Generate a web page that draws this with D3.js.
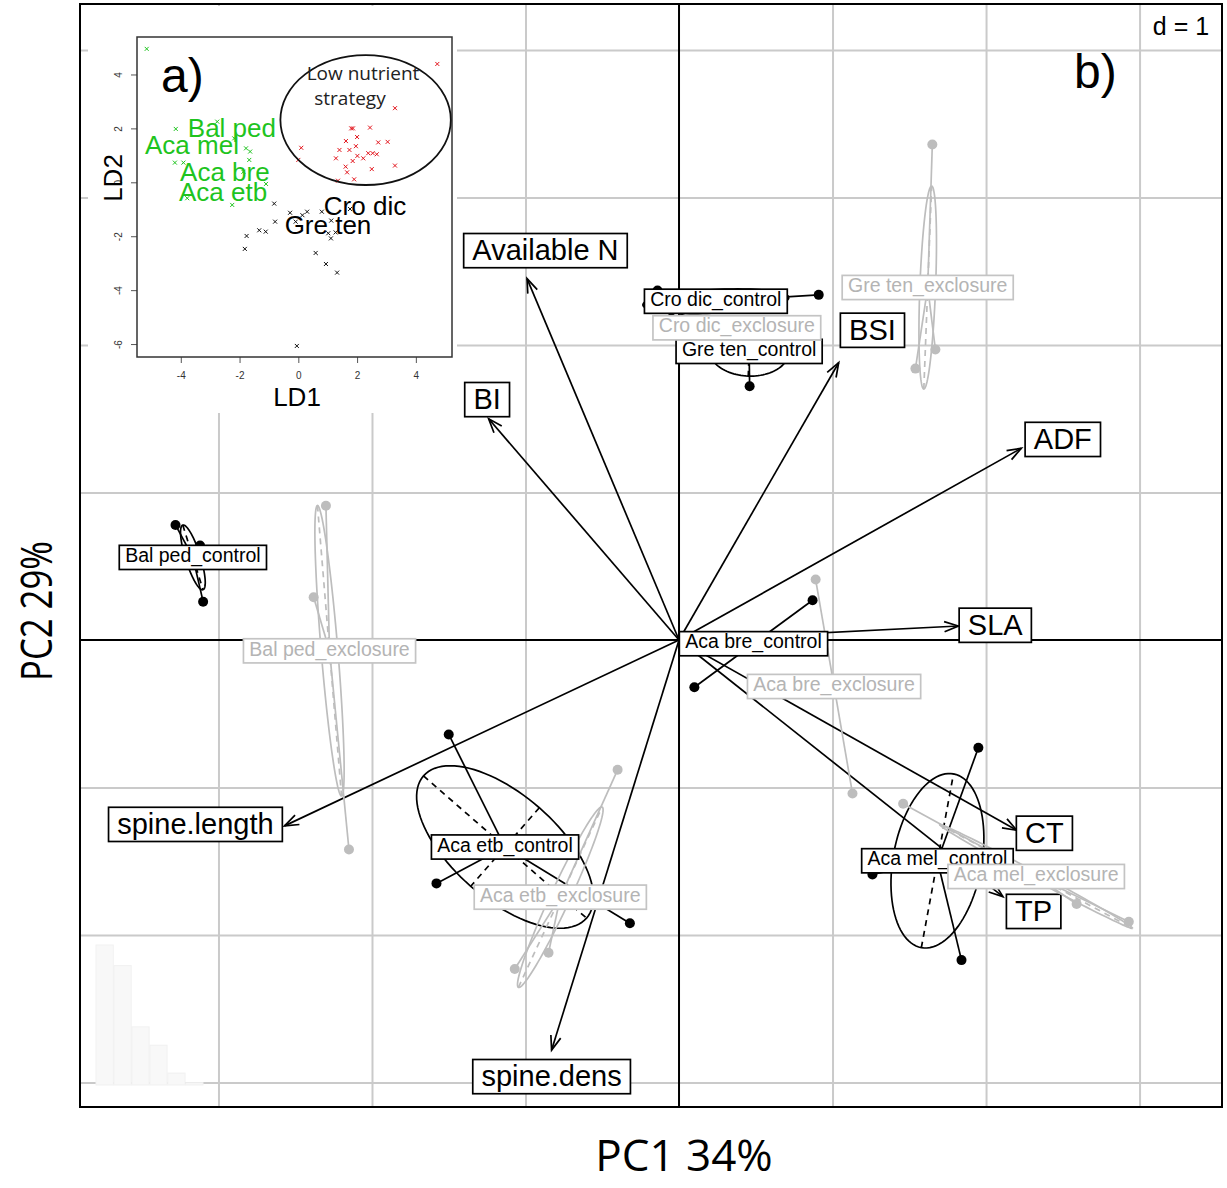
<!DOCTYPE html>
<html>
<head>
<meta charset="utf-8">
<script src="https://cdn.jsdelivr.net/npm/d3@7/dist/d3.min.js"></script>
<style>
  html, body { margin: 0; padding: 0; background: #fff; }
  svg { display: block; }
  text { font-family: "Liberation Sans", Arial, sans-serif; }
</style>
</head>
<body>
<svg id="chart" width="1227" height="1188"></svg>
<script>
// ---------- PCA of traits: variable loadings (arrows) ----------
const traitNames   = ["Available N", "BI", "BSI", "ADF", "SLA", "CT", "TP", "spine.dens", "spine.length"];
const traitPC1     = [-0.99, -1.24, 1.04, 2.23, 1.82, 2.20, 2.11, -0.83, -2.57];
const traitPC2     = [ 2.45,  1.50, 1.88, 1.30, 0.095, -1.29, -1.74, -2.78, -1.26];
const traitLabelPC1 = [-0.87, -1.25, 1.26, 2.50, 2.06, 2.38, 2.31, -0.83, -3.15];
const traitLabelPC2 = [ 2.64,  1.63, 2.10, 1.36, 0.10, -1.31, -1.84, -2.96, -1.25];

// ---------- species x treatment groups, sample scores ----------
const groupNames = ["Bal ped_control", "Bal ped_exclosure", "Aca etb_control", "Aca etb_exclosure",
                    "Aca mel_control", "Aca mel_exclosure", "Aca bre_control", "Aca bre_exclosure",
                    "Cro dic_control", "Cro dic_exclosure", "Gre ten_control", "Gre ten_exclosure"];
const groupTreatment = ["control", "exclosure", "control", "exclosure", "control", "exclosure",
                        "control", "exclosure", "control", "exclosure", "control", "exclosure"];
const groupPC1 = [[-3.28, -3.10, -3.12], [-2.30, -2.38, -2.15], [-1.50, -1.58, -0.32], [-0.40, -1.07, -0.85],
                  [1.95, 1.26, 1.84], [1.46, 2.59, 2.93], [0.87, 0.10], [0.89, 1.13],
                  [0.91, -0.05, -0.14], [0.17, 0.58, 0.38], [0.46, 0.14, 0.77], [1.65, 1.54, 1.67]];
const groupPC2 = [[0.78, 0.26, 0.64], [0.91, 0.29, -1.42], [-0.64, -1.65, -1.92], [-0.88, -2.23, -2.12],
                  [-0.73, -1.59, -2.17], [-1.11, -1.79, -1.91], [0.27, -0.32], [0.41, -1.04],
                  [2.34, 2.18, 2.37], [2.16, 2.13, 2.06], [1.72, 2.08, 2.07], [3.36, 1.84, 1.97]];

const eigenvalues = [3.06, 2.61, 1.27, 0.87, 0.26, 0.05];
const gridPC1 = [-3, -2, -1, 1, 2, 3];
const gridPC2 = [-3, -2, -1, 1, 2, 3, 4];

// ---------- inset: LDA scores ----------
const ldTicks1 = [-4, -2, 0, 2, 4];
const ldTicks2 = [-6, -4, -2, 0, 2, 4];
const ldGreenLD1 = [-5.16, -4.17, -2.76, -2.18, -1.78, -1.64, -1.67, -4.20, -3.91, -1.87, -1.10, -3.78, -2.25];
const ldGreenLD2 = [ 4.95,  1.98,  2.25,  1.63,  1.26,  1.14,  0.83,  0.73,  0.73,  0.39, -0.06, -0.59, -0.84];
const ldBlackLD1 = [-0.82, -0.79, -1.76, -1.82, -1.33, -1.11, -0.28, 0.14, 0.30, 0.80, 1.12, 1.02, 1.11, 1.27, 0.59, 0.94, 1.32, -0.05, 1.76, -0.09];
const ldBlackLD2 = [-0.79, -1.46, -1.99, -2.47, -1.78, -1.83, -1.13, -1.22, -1.09, -1.09, -1.42, -1.89, -2.08, -1.86, -2.62, -3.03, -3.35, -6.07, -0.99, -1.46];
const ldRedLD1 = [4.73, 3.29, 1.80, 1.86, 2.44, 2.00, 1.62, 2.72, 3.04, 1.96, 1.40, 1.74, 0.10, 0.00, 1.28, 2.01, 2.21, 2.38, 2.53, 2.67, 1.85, 1.61, 1.66, 2.50, 3.29, 1.35, 1.90];
const ldRedLD2 = [4.39, 2.75, 2.00, 2.00, 2.03, 1.68, 1.53, 1.48, 1.50, 1.34, 1.20, 1.20, 1.28, 0.83, 0.89, 0.98, 0.89, 1.08, 1.08, 1.04, 0.79, 0.58, 0.37, 0.49, 0.62, 0.06, 0.11];
const ldLabels = ["Bal ped", "Aca mel", "Aca bre", "Aca etb", "Cro dic", "Gre ten"];
const ldLabelLD1 = [-2.26, -3.62, -2.50, -2.56, 2.27, 1.01];
const ldLabelLD2 = [ 2.01,  1.38,  0.38, -0.36, -0.88, -1.58];
const ldLabelGroup = ["green", "green", "green", "green", "black", "black"];
const lowNutrientEllipse = { ld1: 2.29, ld2: 2.31, r1: 2.90, r2: 2.41 };

// ---------- drawing ----------
const svg = d3.select("#chart");
const frame = { left: 80, top: 4, right: 1222, bottom: 1107 };
const x = d3.scaleLinear().domain([-3.902, 3.537]).range([frame.left, frame.right]);
const y = d3.scaleLinear().domain([4.312, -3.166]).range([frame.top, frame.bottom]);

const BLACK = "#000";
const GREY = "#bdbdbd";
const GRID = "#cacaca";

// grid
const gridG = svg.append("g");
gridG.append("g").attr("transform", `translate(0,${frame.bottom})`)
  .call(d3.axisBottom(x).tickValues(gridPC1).tickSize(-(frame.bottom - frame.top)).tickFormat(""))
  .call(g => g.select(".domain").remove())
  .call(g => g.selectAll("line").attr("stroke", GRID).attr("stroke-width", 2));
gridG.append("g").attr("transform", `translate(${frame.left},0)`)
  .call(d3.axisLeft(y).tickValues(gridPC2).tickSize(-(frame.right - frame.left)).tickFormat(""))
  .call(g => g.select(".domain").remove())
  .call(g => g.selectAll("line").attr("stroke", GRID).attr("stroke-width", 2));

// faint eigenvalue bar plot (bottom-left)
const eigX = d3.scaleBand().domain(d3.range(eigenvalues.length)).range([96, 203]).paddingInner(0.04);
const eigY = d3.scaleLinear().domain([0, eigenvalues[0]]).range([1085, 945]);
svg.append("g").selectAll("rect").data(eigenvalues).join("rect")
  .attr("x", (d, i) => eigX(i)).attr("width", eigX.bandwidth())
  .attr("y", d => eigY(d)).attr("height", d => eigY(0) - eigY(d))
  .attr("fill", "#f8f8f8").attr("stroke", "#f1f1f1").attr("stroke-width", 1);

// main axes through the origin
svg.append("line").attr("x1", x(0)).attr("x2", x(0)).attr("y1", frame.top).attr("y2", frame.bottom)
  .attr("stroke", BLACK).attr("stroke-width", 2);
svg.append("line").attr("x1", frame.left).attr("x2", frame.right).attr("y1", y(0)).attr("y2", y(0))
  .attr("stroke", BLACK).attr("stroke-width", 2);

// boxed label helper (white box, text baseline slightly below centre)
function boxedLabel(parent, cx, cy, txt, size, color, boxColor, baseShift, hFactor) {
  const g = parent.append("g");
  const rect = g.append("rect").attr("fill", "#fff").attr("stroke", boxColor).attr("stroke-width", 1.7);
  const t = g.append("text").attr("x", cx).attr("y", cy + baseShift * size).attr("text-anchor", "middle")
    .attr("font-size", size).attr("fill", color).text(txt);
  const w = t.node().getComputedTextLength() + 0.6 * size;
  const h = hFactor * size;
  rect.attr("x", cx - w / 2).attr("y", cy - h / 2).attr("width", w).attr("height", h);
  return g;
}

// arrows
const arrowsG = svg.append("g");
traitNames.forEach((name, i) => {
  const x1 = x(0), y1 = y(0), x2 = x(traitPC1[i]), y2 = y(traitPC2[i]);
  arrowsG.append("line").attr("x1", x1).attr("y1", y1).attr("x2", x2).attr("y2", y2)
    .attr("stroke", BLACK).attr("stroke-width", 1.7);
  const ang = Math.atan2(y2 - y1, x2 - x1), L = 15, a = Math.PI / 9;
  const p = d3.path();
  p.moveTo(x2 - L * Math.cos(ang - a), y2 - L * Math.sin(ang - a));
  p.lineTo(x2, y2);
  p.lineTo(x2 - L * Math.cos(ang + a), y2 - L * Math.sin(ang + a));
  arrowsG.append("path").attr("d", p.toString()).attr("fill", "none")
    .attr("stroke", BLACK).attr("stroke-width", 1.7);
});
const arrowLabelsG = svg.append("g");
traitNames.forEach((name, i) => {
  boxedLabel(arrowLabelsG, x(traitLabelPC1[i]), y(traitLabelPC2[i]), name, 29, BLACK, BLACK, 0.32, 1.18);
});

// groups: star, ellipse (1 sd), ellipse axes, points
function ellipseOf(pts) {
  const n = pts.length;
  const mx = d3.mean(pts, p => p[0]), my = d3.mean(pts, p => p[1]);
  let sxx = 0, syy = 0, sxy = 0;
  pts.forEach(([a, b]) => { sxx += (a - mx) ** 2; syy += (b - my) ** 2; sxy += (a - mx) * (b - my); });
  sxx /= n; syy /= n; sxy /= n;
  const tr = (sxx + syy) / 2, d = Math.sqrt(((sxx - syy) / 2) ** 2 + sxy ** 2);
  return { mx, my, r1: Math.sqrt(tr + d), r2: Math.sqrt(Math.max(tr - d, 0)),
           th: 0.5 * Math.atan2(2 * sxy, sxx - syy) };
}

const groupCenters = [];
function drawGroups(treatment, color) {
  const g = svg.append("g");
  groupNames.forEach((name, gi) => {
    if (groupTreatment[gi] !== treatment) return;
    const pts = groupPC1[gi].map((v, k) => [x(v), y(groupPC2[gi][k])]);
    const e = ellipseOf(pts);
    groupCenters[gi] = [e.mx, e.my];
    pts.forEach(p => g.append("line").attr("x1", e.mx).attr("y1", e.my).attr("x2", p[0]).attr("y2", p[1])
      .attr("stroke", color).attr("stroke-width", 1.7));
    if (pts.length >= 3) {
      const c = Math.cos(e.th), s = Math.sin(e.th);
      const ring = d3.range(0, 101).map(k => {
        const t = 2 * Math.PI * k / 100;
        const u = e.r1 * Math.cos(t), v = e.r2 * Math.sin(t);
        return [e.mx + u * c - v * s, e.my + u * s + v * c];
      });
      g.append("path").attr("d", d3.line()(ring)).attr("fill", "none")
        .attr("stroke", color).attr("stroke-width", 1.7);
      [[e.r1 * c, e.r1 * s], [-e.r2 * s, e.r2 * c]].forEach(([dx, dy]) => {
        g.append("line").attr("x1", e.mx - dx).attr("y1", e.my - dy).attr("x2", e.mx + dx).attr("y2", e.my + dy)
          .attr("stroke", color).attr("stroke-width", 1.7).attr("stroke-dasharray", "6,5");
      });
    }
    pts.forEach(p => g.append("circle").attr("cx", p[0]).attr("cy", p[1]).attr("r", 5).attr("fill", color));
  });
}
drawGroups("control", BLACK);
drawGroups("exclosure", GREY);

const groupLabelsG = svg.append("g");
["control", "exclosure"].forEach(tr => {
  groupNames.forEach((name, gi) => {
    if (groupTreatment[gi] !== tr) return;
    const col = tr === "control" ? BLACK : "#b4b4b4";
    const box = tr === "control" ? BLACK : "#c4c4c4";
    boxedLabel(groupLabelsG, groupCenters[gi][0], groupCenters[gi][1], name, 19.5, col, box, 0.24, 1.24);
  });
});

// plot frame and panel annotations
svg.append("rect").attr("x", frame.left).attr("y", frame.top)
  .attr("width", frame.right - frame.left).attr("height", frame.bottom - frame.top)
  .attr("fill", "none").attr("stroke", BLACK).attr("stroke-width", 2);
svg.append("text").attr("x", 1181).attr("y", 35).attr("text-anchor", "middle")
  .attr("font-size", 25).text("d = 1");
svg.append("text").attr("x", 1074).attr("y", 88).attr("font-size", 48).text("b)");

// axis titles
svg.append("text").attr("x", 684).attr("y", 1171).attr("text-anchor", "middle")
  .attr("font-size", 44).style("font-family", "'Open Sans', sans-serif").text("PC1 34%");
svg.append("text").attr("transform", "translate(52,611) rotate(-90)").attr("text-anchor", "middle")
  .attr("font-size", 44).attr("textLength", 140).attr("lengthAdjust", "spacingAndGlyphs")
  .style("font-family", "'Open Sans', sans-serif").text("PC2 29%");

// ---------- inset (a): LDA ----------
const inset = svg.append("g");
inset.append("rect").attr("x", 88).attr("y", 6).attr("width", 369).attr("height", 407).attr("fill", "#fff");
const lx = d3.scaleLinear().domain([-5.49, 5.23]).range([137, 452]);
const ly = d3.scaleLinear().domain([5.39, -6.48]).range([37, 357]);

inset.append("g").attr("transform", "translate(0,357)")
  .call(d3.axisBottom(lx).tickValues(ldTicks1).tickSize(6).tickPadding(9).tickFormat(d => String(d)))
  .call(g => g.select(".domain").remove())
  .call(g => g.selectAll("line").attr("stroke", "#555"))
  .call(g => g.selectAll("text").attr("font-size", 10).attr("fill", "#333")
    .style("font-family", "'Liberation Sans', Arial, sans-serif"));
inset.append("g").attr("transform", "translate(137,0)")
  .call(d3.axisLeft(ly).tickValues(ldTicks2).tickSize(6).tickFormat(d => String(d)))
  .call(g => g.select(".domain").remove())
  .call(g => g.selectAll("line").attr("stroke", "#555"))
  .call(g => g.selectAll("text").attr("font-size", 10).attr("fill", "#333")
    .style("font-family", "'Liberation Sans', Arial, sans-serif")
    .attr("x", null).attr("dy", null).attr("text-anchor", "middle")
    .attr("transform", "translate(-15,0) rotate(-90)"));

inset.append("rect").attr("x", 137).attr("y", 37).attr("width", 315).attr("height", 320)
  .attr("fill", "none").attr("stroke", "#333").attr("stroke-width", 1.5);

function crosses(ld1, ld2, color) {
  ld1.forEach((v, i) => {
    const cx = lx(v), cy = ly(ld2[i]), r = 2;
    inset.append("path").attr("d", `M${cx - r},${cy - r}L${cx + r},${cy + r}M${cx - r},${cy + r}L${cx + r},${cy - r}`)
      .attr("stroke", color).attr("stroke-width", 1);
  });
}
const LDGREEN = "#1ec41e";
crosses(ldGreenLD1, ldGreenLD2, LDGREEN);
crosses(ldBlackLD1, ldBlackLD2, "#111");
crosses(ldRedLD1, ldRedLD2, "#e3141c");

inset.append("ellipse").attr("cx", lx(lowNutrientEllipse.ld1)).attr("cy", ly(lowNutrientEllipse.ld2))
  .attr("rx", lx(lowNutrientEllipse.r1) - lx(0)).attr("ry", ly(0) - ly(lowNutrientEllipse.r2))
  .attr("fill", "none").attr("stroke", "#111").attr("stroke-width", 1.8);
inset.append("text").attr("x", 363).attr("y", 80).attr("text-anchor", "middle").attr("font-size", 19)
  .style("font-family", "'Open Sans', sans-serif").attr("fill", "#222").text("Low nutrient");
inset.append("text").attr("x", 350).attr("y", 105).attr("text-anchor", "middle").attr("font-size", 19)
  .style("font-family", "'Open Sans', sans-serif").attr("fill", "#222").text("strategy");

ldLabels.forEach((name, i) => {
  inset.append("text").attr("x", lx(ldLabelLD1[i])).attr("y", ly(ldLabelLD2[i]))
    .attr("text-anchor", "middle").attr("dominant-baseline", "central").attr("font-size", 26)
    .attr("fill", ldLabelGroup[i] === "green" ? LDGREEN : "#000").text(name);
});

inset.append("text").attr("x", 161).attr("y", 92).attr("font-size", 48).text("a)");
inset.append("text").attr("x", 297).attr("y", 406).attr("text-anchor", "middle").attr("font-size", 26).text("LD1");
inset.append("text").attr("transform", "translate(122,178) rotate(-90)").attr("text-anchor", "middle")
  .attr("font-size", 26).text("LD2");
</script>
</body>
</html>
